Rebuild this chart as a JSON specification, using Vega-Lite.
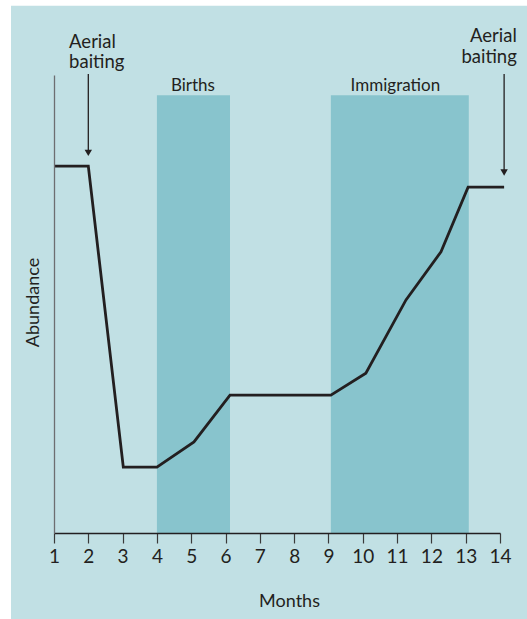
{
  "$schema": "https://vega.github.io/schema/vega-lite/v6.json",
  "width": 446,
  "height": 458,
  "autosize": {"type": "none"},
  "padding": {"left": 54, "top": 75, "right": 27, "bottom": 86},
  "background": "white",
  "config": {
    "view": {"stroke": null},
    "font": "Lato",
    "text": {"font": "Lato", "color": "#231f20"}
  },
  "datasets": {
    "line": [
      {"month": 1, "abundance": 80.1},
      {"month": 2, "abundance": 80.1},
      {"month": 3.02, "abundance": 14.4},
      {"month": 4, "abundance": 14.4},
      {"month": 5.08, "abundance": 19.9},
      {"month": 6.13, "abundance": 30.1},
      {"month": 9.07, "abundance": 30.1},
      {"month": 10.09, "abundance": 34.9},
      {"month": 11.26, "abundance": 50.9},
      {"month": 12.28, "abundance": 61.4},
      {"month": 13.07, "abundance": 75.5},
      {"month": 14.12, "abundance": 75.5}
    ],
    "bands": [
      {"label": "Births", "start": 4, "end": 6.13, "top": 95.6, "labelMonth": 5.05, "labelY": 96.4},
      {"label": "Immigration", "start": 9.07, "end": 13.09, "top": 95.6, "labelMonth": 10.95, "labelY": 96.4}
    ],
    "notes": [
      {"side": "left", "text": "Aerial", "month": 1.44, "y": 106.0},
      {"side": "left", "text": "baiting", "month": 1.44, "y": 101.5},
      {"side": "right", "text": "Aerial", "month": 14.49, "y": 107.1},
      {"side": "right", "text": "baiting", "month": 14.49, "y": 102.6}
    ],
    "arrows": [
      {"month": 2, "from": 100.2, "to": 81.4, "head": 83.0},
      {"month": 14.12, "from": 100.2, "to": 77.1, "head": 78.7}
    ]
  },
  "layer": [
    {
      "data": {"values": [{"panel": "background"}]},
      "mark": {"type": "rect", "color": "#c1e0e4", "clip": false},
      "encoding": {
        "x": {"datum": -0.253, "type": "quantitative"},
        "x2": {"datum": 15.5},
        "y": {"datum": 115.1, "type": "quantitative"},
        "y2": {"datum": -19}
      }
    },
    {
      "data": {"name": "bands"},
      "mark": {"type": "rect", "color": "#88c4cd"},
      "encoding": {
        "x": {"field": "start", "type": "quantitative"},
        "x2": {"field": "end"},
        "y": {"field": "top", "type": "quantitative"},
        "y2": {"datum": 0}
      }
    },
    {
      "data": {"name": "bands"},
      "mark": {"type": "text", "fontSize": 17, "baseline": "alphabetic", "align": "center"},
      "encoding": {
        "x": {"field": "labelMonth", "type": "quantitative"},
        "y": {"field": "labelY", "type": "quantitative"},
        "text": {"field": "label"}
      }
    },
    {
      "data": {"name": "line"},
      "mark": {"type": "line", "color": "#231f20", "strokeWidth": 2.8, "strokeJoin": "miter"},
      "encoding": {
        "x": {"field": "month", "type": "quantitative", "scale": {"domain": [1, 14], "nice": false, "zero": false},
          "axis": {
            "zindex": 1,
            "values": [1,2,3,4,5,6,7,8,9,10,11,12,13,14],
            "tickCount": 30,
            "format": "d",
            "labelOverlap": false,
            "title": "Months",
            "titleFont": "Lato", "titleFontSize": 18, "titleFontWeight": "normal", "titleColor": "#231f20",
            "titleX": 235, "titleY": 73, "titleBaseline": "alphabetic", "titleAlign": "center",
            "labelFont": "Lato", "labelFontSize": 19, "labelColor": "#231f20", "labelPadding": 4, "labelFlush": false,
            "tickSize": 10, "tickColor": "#3a3a3a", "tickWidth": 1.2,
            "domainColor": "#231f20", "domainWidth": 1.5, "grid": false
          }},
        "y": {"field": "abundance", "type": "quantitative", "scale": {"domain": [0, 100], "nice": false, "zero": false},
          "axis": {
            "zindex": 1,
            "title": "Abundance", "titleFont": "Lato", "titleFontSize": 18, "titleFontWeight": "normal", "titleColor": "#231f20",
            "titleX": -21, "titleY": 227, "titleBaseline": "middle", "titleAlign": "center", "titleAngle": -90,
            "labels": false, "ticks": false, "grid": false,
            "domainColor": "#6d6e71", "domainWidth": 1.3
          }}
      }
    },
    {
      "data": {"name": "arrows"},
      "mark": {"type": "rule", "color": "#231f20", "strokeWidth": 1.3},
      "encoding": {
        "x": {"field": "month", "type": "quantitative"},
        "y": {"field": "from", "type": "quantitative"},
        "y2": {"field": "head"}
      }
    },
    {
      "data": {"name": "arrows"},
      "mark": {"type": "point", "shape": "triangle-down", "filled": true, "color": "#231f20", "size": 55, "opacity": 1},
      "encoding": {
        "x": {"field": "month", "type": "quantitative"},
        "y": {"field": "head", "type": "quantitative"}
      }
    },
    {
      "data": {"name": "notes"},
      "transform": [{"filter": "datum.side == 'left'"}],
      "mark": {"type": "text", "fontSize": 18.5, "baseline": "alphabetic", "align": "left"},
      "encoding": {
        "x": {"field": "month", "type": "quantitative"},
        "y": {"field": "y", "type": "quantitative"},
        "text": {"field": "text"}
      }
    },
    {
      "data": {"name": "notes"},
      "transform": [{"filter": "datum.side == 'right'"}],
      "mark": {"type": "text", "fontSize": 18.5, "baseline": "alphabetic", "align": "right"},
      "encoding": {
        "x": {"field": "month", "type": "quantitative"},
        "y": {"field": "y", "type": "quantitative"},
        "text": {"field": "text"}
      }
    }
  ]
}
